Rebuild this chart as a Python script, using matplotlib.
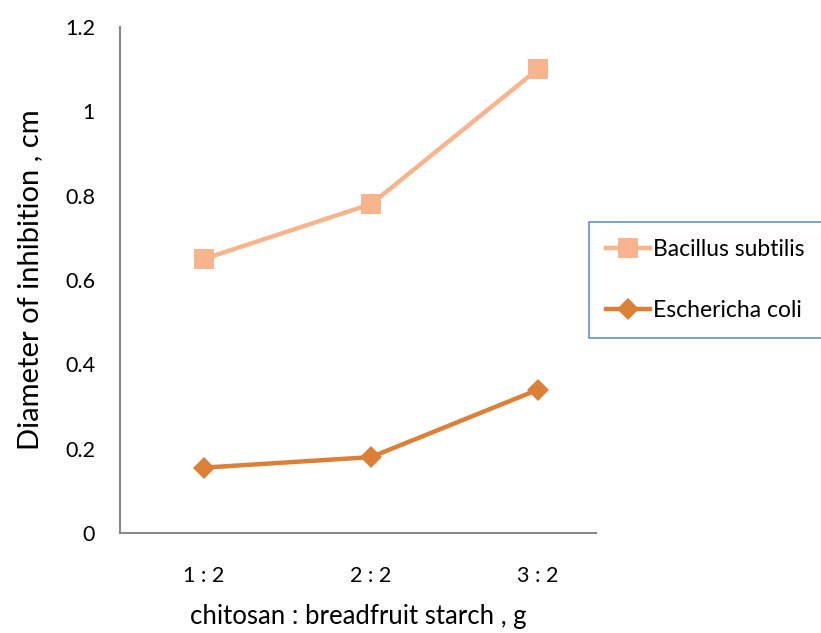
import matplotlib
matplotlib.use("Agg")
import matplotlib.pyplot as plt

categories = ["1 : 2", "2 : 2", "3 : 2"]
bacillus = [0.65, 0.78, 1.10]
ecoli = [0.155, 0.18, 0.34]
yticks = [0, 0.2, 0.4, 0.6, 0.8, 1.0, 1.2]
ytick_labels = ["0", "0.2", "0.4", "0.6", "0.8", "1", "1.2"]

plt.rcParams["font.family"] = ["Lato", "DejaVu Sans"]

W, H = 821, 633
fig = plt.figure(figsize=(W / 100, H / 100), dpi=100)
ax = fig.add_axes([120 / W, (H - 533) / H, (596 - 120) / W, (533 - 27) / H])

x = list(range(len(categories)))
ax.plot(x, bacillus, color="#F8B48C", lw=3.2, marker="s", ms=14,
        markeredgewidth=0, label="Bacillus subtilis")
ax.plot(x, ecoli, color="#DC8038", lw=3.2, marker="D", ms=11,
        markeredgewidth=0, label="Eschericha coli")

ax.set_xlim(-0.503, 2.347)
ax.set_ylim(0, 1.2)
ax.set_xticks(x)
ax.set_xticklabels(categories)
ax.set_yticks(yticks)
ax.set_yticklabels(ytick_labels)
ax.tick_params(length=0, labelsize=15.5, colors="black")
ax.tick_params(axis="x", pad=24)
ax.tick_params(axis="y", pad=18)

for s in ["top", "right"]:
    ax.spines[s].set_visible(False)
for s in ["left", "bottom"]:
    ax.spines[s].set_color("#888888")
    ax.spines[s].set_linewidth(1.5)

ax.set_xlabel("chitosan : breadfruit starch , g", fontsize=18.5, labelpad=13)
ax.set_ylabel("Diameter of inhibition , cm", fontsize=21, labelpad=16)

leg = fig.legend(loc="upper left", bbox_to_anchor=(589 / W, 1 - 222 / H),
                 fontsize=16.5, frameon=True, fancybox=False, handlelength=1.9,
                 labelspacing=1.75, borderpad=0.75, handletextpad=0.15,
                 borderaxespad=0)
leg.get_frame().set_edgecolor("#4472C4")
leg.get_frame().set_linewidth(1.2)

fig.savefig("out.png", dpi=100)
